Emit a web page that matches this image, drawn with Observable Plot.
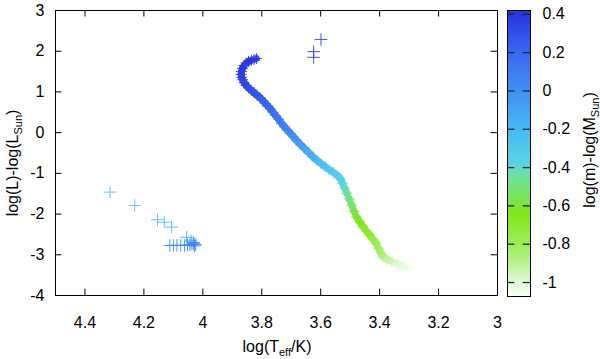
<!DOCTYPE html>
<html><head><meta charset="utf-8">
<script src="https://cdn.jsdelivr.net/npm/d3@7"></script>
<script src="https://cdn.jsdelivr.net/npm/@observablehq/plot@0.6"></script>
<style>
body{margin:0;background:#fff;}
#wrap{position:relative;width:600px;height:359px;overflow:hidden;}
#wrap svg{position:absolute;top:0;}
</style></head><body><div id="wrap"></div>
<script>
// ---- axis ticks and domains ----
const xTicks = [4.4, 4.2, 4, 3.8, 3.6, 3.4, 3.2, 3];
const yTicks = [3, 2, 1, 0, -1, -2, -3, -4];
const cbTicks = [0.4, 0.2, 0, -0.2, -0.4, -0.6, -0.8, -1];
const xDomain = [4.5, 3];
const yDomain = [-4, 3];
const cbDomain = [-1.073, 0.42];
const xLabel = ["log(T", "eff", "/K)"];
const yLabel = ["log(L)-log(L", "Sun", ")"];
const cbLabel = ["log(m)-log(M", "Sun", ")"];
// ---- palette ----
const paletteStops  = [-1.073, -1.0, -0.85, -0.65, -0.45, -0.38, -0.2, 0, 0.2, 0.42];
const paletteColors = ["#f4fff2", "#e0f8d6", "#a8ee70", "#80e818", "#70e0a0", "#58d4e4", "#48b8f6", "#4090f2", "#3a68f0", "#2830dc"];
// ---- data: [logTeff, logL, logm] ----
const mainSequence = [
[3.818,1.82,0.40],[3.826,1.80,0.40],[3.835,1.78,0.40],[3.845,1.75,0.39],[3.853,1.71,0.39],
[3.860,1.65,0.39],[3.865,1.58,0.38],[3.869,1.50,0.37],[3.870,1.43,0.36],[3.868,1.36,0.35],
[3.865,1.30,0.34],[3.860,1.23,0.33],[3.853,1.16,0.32],[3.845,1.10,0.31],[3.836,1.04,0.30],
[3.826,0.98,0.29],[3.816,0.92,0.27],[3.806,0.86,0.26],[3.797,0.79,0.24],[3.788,0.72,0.22],
[3.779,0.65,0.21],[3.770,0.58,0.19],[3.762,0.50,0.17],[3.753,0.42,0.15],[3.743,0.33,0.13],
[3.733,0.23,0.10],[3.723,0.14,0.07],[3.713,0.06,0.05],[3.703,-0.02,0.03],[3.693,-0.10,0.00],
[3.682,-0.19,-0.03],[3.669,-0.29,-0.07],[3.655,-0.39,-0.10],[3.641,-0.49,-0.13],[3.627,-0.59,-0.16],
[3.613,-0.68,-0.20],[3.599,-0.76,-0.23],[3.585,-0.84,-0.26],[3.571,-0.91,-0.29],[3.557,-0.98,-0.31],
[3.544,-1.05,-0.33],[3.533,-1.13,-0.35],[3.526,-1.24,-0.38],[3.519,-1.36,-0.42],[3.511,-1.49,-0.46],
[3.503,-1.63,-0.50],[3.495,-1.78,-0.54],[3.487,-1.93,-0.58],[3.479,-2.07,-0.62],[3.468,-2.19,-0.65],
[3.457,-2.30,-0.67],[3.446,-2.41,-0.70],[3.434,-2.51,-0.72],[3.422,-2.62,-0.75],[3.412,-2.72,-0.78],
[3.404,-2.84,-0.81],[3.396,-2.95,-0.84],[3.389,-3.05,-0.88],[3.375,-3.11,-0.92],[3.358,-3.17,-0.96],
[3.340,-3.22,-1.00],[3.322,-3.28,-1.03],[3.305,-3.32,-1.05],[3.294,-3.35,-1.07]
];
const giants = [[3.599,2.29,0.36],[3.624,1.99,0.37],[3.624,1.85,0.37]];
const whiteDwarfs = [
[4.315,-1.46,-0.28],[4.231,-1.79,-0.27],[4.154,-2.14,-0.25],[4.131,-2.20,-0.24],[4.106,-2.32,-0.22],
[4.055,-2.57,-0.18],[4.040,-2.66,-0.12],[4.112,-2.77,0.02],[4.100,-2.77,0.02],[4.088,-2.77,0.03],
[4.075,-2.77,0.03],[4.062,-2.77,0.04],[4.052,-2.76,0.04],[4.044,-2.76,0.05],[4.037,-2.75,0.05],
[4.032,-2.72,0.06],[4.028,-2.78,0.06],[4.024,-2.75,0.07],[4.030,-2.70,0.06]
];

const toObj = a => ({logT: a[0], logL: a[1], logM: a[2]});
const ms = mainSequence.map(toObj);
const others = [...giants, ...whiteDwarfs].map(toObj);
const colorOpt = {type: "linear", domain: paletteStops, range: paletteColors, interpolate: "rgb", clamp: true};
const FONT = '"Liberation Sans", Arial, Helvetica, sans-serif';
const fmt = d => String(d);

const main = Plot.plot({
  width: 600, height: 359,
  marginLeft: 55, marginRight: 103, marginTop: 10, marginBottom: 64,
  style: {fontFamily: FONT, fontSize: "16px", color: "#000", background: "#fff"},
  x: {domain: xDomain, label: null},
  y: {domain: yDomain, label: null},
  color: colorOpt,
  marks: [
    Plot.line(ms, {x: "logT", y: "logL", stroke: "logM", z: null, strokeWidth: 7, strokeOpacity: 0.85}),
    Plot.dot(ms, {x: "logT", y: "logL", stroke: "logM", symbol: "plus", r: 3.6, strokeWidth: 0.9}),
    Plot.dot(others, {x: "logT", y: "logL", stroke: "logM", symbol: "plus", r: 4.1, strokeWidth: 0.9}),
    Plot.ruleX(xTicks, {x: d => d, y1: yDomain[0], y2: yDomain[0] + 0.16, stroke: "#000"}),
    Plot.ruleX(xTicks, {x: d => d, y1: yDomain[1], y2: yDomain[1] - 0.16, stroke: "#000"}),
    Plot.ruleY(yTicks, {y: d => d, x1: xDomain[0], x2: xDomain[0] - 0.022, stroke: "#000"}),
    Plot.ruleY(yTicks, {y: d => d, x1: xDomain[1], x2: xDomain[1] + 0.022, stroke: "#000"}),
    Plot.axisX({ticks: xTicks, tickFormat: fmt, tickSize: 0, tickPadding: 21, label: null}),
    Plot.axisY({ticks: yTicks, tickFormat: fmt, tickSize: 0, tickPadding: 11, label: null}),
    Plot.frame({stroke: "#000"})
  ]
});

const step = 0.01;
const slices = d3.range(cbDomain[0], cbDomain[1], step).map(v => ({y1: v, y2: Math.min(v + step * 1.6, cbDomain[1]), mid: v + step / 2}));
const cb = Plot.plot({
  width: 110, height: 359,
  marginLeft: 17, marginRight: 70, marginTop: 10, marginBottom: 63,
  style: {fontFamily: FONT, fontSize: "16px", color: "#000", background: "transparent"},
  x: {domain: [0, 1], axis: null},
  y: {domain: cbDomain, label: null},
  color: colorOpt,
  marks: [
    Plot.rect(slices, {x1: 0, x2: 1, y1: "y1", y2: "y2", fill: "mid"}),
    Plot.ruleY(cbTicks, {y: d => d, x1: 0, x2: 0.32, stroke: "#1a2a3a", strokeWidth: 1.3}),
    Plot.ruleY(cbTicks, {y: d => d, x1: 0.68, x2: 1, stroke: "#1a2a3a", strokeWidth: 1.3}),
    Plot.axisY({anchor: "right", ticks: cbTicks, tickFormat: fmt, tickSize: 0, tickPadding: 12, label: null}),
    Plot.frame({stroke: "#000"})
  ]
});

const wrap = document.getElementById("wrap");
main.style.left = "0px";
cb.style.left = "490px";
wrap.appendChild(main);
wrap.appendChild(cb);

function addLabel(svg, x, y, rot, parts) {
  const t = d3.select(svg).append("text")
    .attr("transform", `translate(${x},${y}) rotate(${rot})`)
    .attr("text-anchor", "middle").attr("font-size", 16).attr("fill", "#000")
    .attr("font-family", FONT);
  t.append("tspan").text(parts[0]);
  t.append("tspan").attr("font-size", 11).attr("dy", 4).text(parts[1]);
  t.append("tspan").attr("dy", -4).text(parts[2]);
}
addLabel(main, 277, 352, 0, xLabel);
addLabel(main, 18, 163, -90, yLabel);
addLabel(cb, 105, 150, -90, cbLabel);
</script></body></html>
